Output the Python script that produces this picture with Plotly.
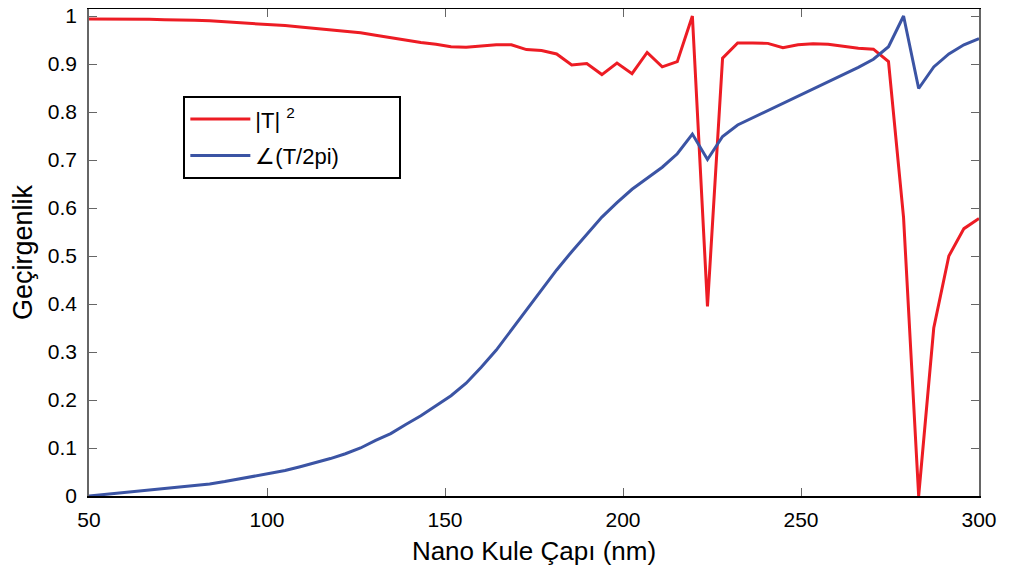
import plotly.graph_objects as go

# Nano kule çapı (nm) – sampled positions
diameter = [50.00, 54.24, 58.47, 62.71, 66.95, 71.19, 75.42, 79.66, 83.90, 88.14,
            92.37, 96.61, 100.85, 105.08, 109.32, 113.56, 117.80, 122.03, 126.27, 130.51,
            134.75, 138.98, 143.22, 147.46, 151.69, 155.93, 160.17, 164.41, 168.64, 172.88,
            177.12, 181.36, 185.59, 189.83, 194.07, 198.31, 202.54, 206.78, 211.02, 215.25,
            219.49, 223.73, 227.97, 232.20, 236.44, 240.68, 244.92, 249.15, 253.39, 257.63,
            261.86, 266.10, 270.34, 274.58, 278.81, 283.05, 287.29, 291.53, 295.76, 300.00]

# |T|^2
t_abs2 = [0.994, 0.994, 0.993, 0.993, 0.993, 0.992, 0.992, 0.991, 0.990, 0.988,
          0.987, 0.985, 0.983, 0.980, 0.977, 0.974, 0.971, 0.968, 0.965, 0.960,
          0.955, 0.949, 0.945, 0.941, 0.936, 0.935, 0.937, 0.940, 0.940, 0.930,
          0.928, 0.921, 0.898, 0.901, 0.878, 0.902, 0.880, 0.924, 0.894, 0.905,
          1.000, 0.395, 0.912, 0.944, 0.944, 0.943, 0.934, 0.940, 0.942, 0.941,
          0.937, 0.933, 0.931, 0.905, 0.580, 0.000, 0.350, 0.500, 0.557, 0.578]

# ∠(T/2pi)
t_phase = [0.000, 0.003, 0.006, 0.009, 0.012, 0.015, 0.018, 0.021, 0.025, 0.030,
           0.036, 0.041, 0.047, 0.053, 0.061, 0.069, 0.078, 0.088, 0.100, 0.116,
           0.130, 0.149, 0.167, 0.188, 0.209, 0.235, 0.268, 0.304, 0.346, 0.388,
           0.431, 0.471, 0.509, 0.546, 0.581, 0.611, 0.639, 0.662, 0.685, 0.713,
           0.754, 0.701, 0.749, 0.773, 0.788, 0.802, 0.818, 0.833, 0.847, 0.862,
           0.877, 0.893, 0.910, 0.936, 1.000, 0.849, 0.894, 0.921, 0.940, 0.953]

x_ticks = [50, 100, 150, 200, 250, 300]
y_ticks = [0, 0.1, 0.2, 0.3, 0.4, 0.5, 0.6, 0.7, 0.8, 0.9, 1]
y_tick_labels = ["0", "0.1", "0.2", "0.3", "0.4", "0.5", "0.6", "0.7", "0.8", "0.9", "1"]

RED = "#ED1C24"
BLUE = "#3B54A4"
FONT = "Liberation Sans, Arial, sans-serif"
PAD = "\u00a0" * 9  # extra room at the right of the legend box

fig = go.Figure()
fig.add_trace(go.Scatter(x=diameter, y=t_abs2, mode="lines", name="|T| <sup>2</sup>",
                         legendgroup="a", line=dict(color=RED, width=3)))
fig.add_trace(go.Scatter(x=diameter, y=t_phase, mode="lines", name="∠(T/2pi)" + PAD,
                         legendgroup="b", line=dict(color=BLUE, width=3)))

fig.update_layout(
    width=1002, height=560,
    margin=dict(l=81, r=31, t=1, b=72, autoexpand=False),
    paper_bgcolor="white", plot_bgcolor="white",
    font=dict(family=FONT, size=21, color="black"),
    legend=dict(x=0.106, y=0.821, xanchor="left", yanchor="top",
                bordercolor="black", borderwidth=2, bgcolor="white",
                font=dict(size=22), tracegroupgap=5, itemwidth=60),
    showlegend=True,
)
fig.update_xaxes(
    range=[50, 300], tickvals=x_ticks, ticks="inside", ticklen=8, tickcolor="#666666",
    showline=True, linecolor="black", linewidth=2, mirror="ticks",
    showgrid=False, zeroline=False, ticklabelstandoff=4, automargin=False,
    ticklabeloverflow="allow",
    title=dict(text="Nano Kule Çapı (nm)", font=dict(size=26), standoff=12),
)
fig.update_yaxes(
    range=[0, 1.0146], tickvals=y_ticks, ticktext=y_tick_labels, ticks="inside", ticklen=8,
    tickcolor="#666666", showline=True, linecolor="#666666", linewidth=1.5, mirror="ticks",
    showgrid=False, zeroline=False, ticklabelstandoff=6, automargin=False,
    ticklabeloverflow="allow",
    title=dict(text="Geçirgenlik", font=dict(size=27), standoff=8),
)

fig.write_html("out.html")
